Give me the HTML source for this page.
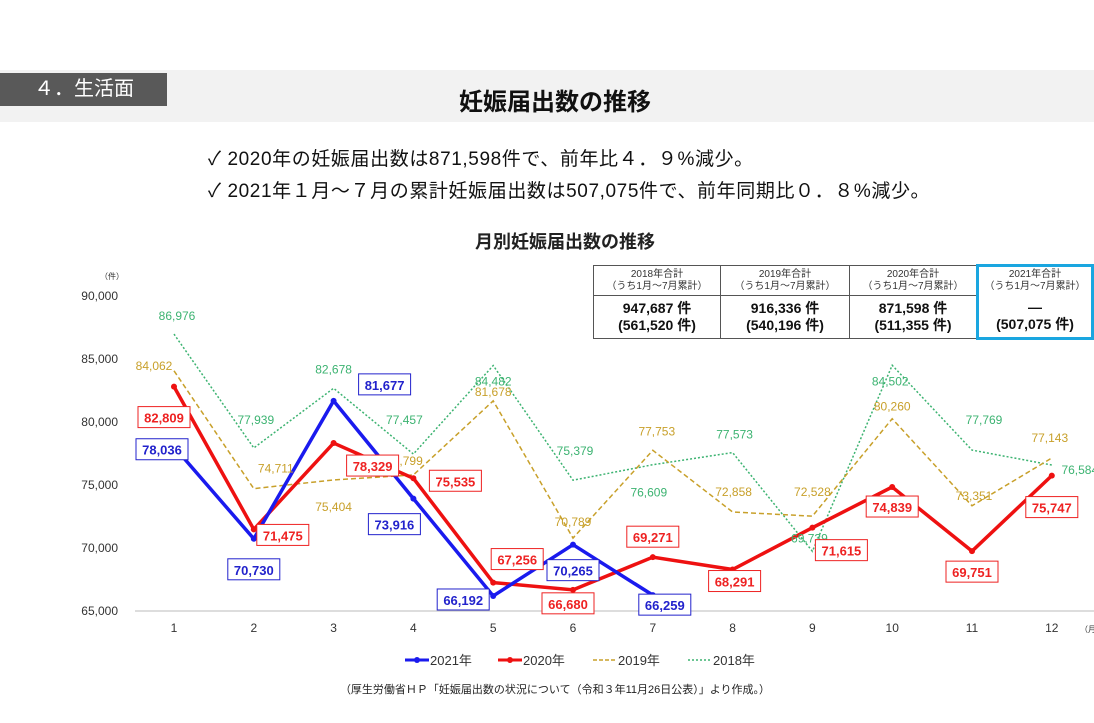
<!DOCTYPE html>
<html><head><meta charset="utf-8"><style>
body{margin:0;width:1094px;height:723px;overflow:hidden;background:#fff;font-family:"Liberation Sans","Noto Sans CJK JP",sans-serif;position:relative}
.abs{position:absolute}
table{border-collapse:collapse}
td{border:1px solid #555;text-align:center;padding:0;font-size:10px;color:#333;line-height:12px}
td.v{font-size:14px;font-weight:bold;color:#111;line-height:17px}
</style></head><body>
<div class="abs" style="left:0;top:70px;width:1094px;height:52px;background:#f2f2f2"></div>
<div class="abs" style="left:0;top:73px;width:167px;height:33px;background:#595959;color:#fff;font-size:20px;line-height:33px;text-indent:34px">４．生活面</div>
<div class="abs" style="left:0;top:82px;width:1110px;text-align:center;font-size:24px;font-weight:bold;color:#111">妊娠届出数の推移</div>
<div class="abs" style="left:208px;top:144px;font-size:19px;letter-spacing:0.6px;color:#111">✓ 2020年の妊娠届出数は871,598件で、前年比４．９%減少。</div>
<div class="abs" style="left:208px;top:176px;font-size:19px;letter-spacing:0.6px;color:#111">✓ 2021年１月～７月の累計妊娠届出数は507,075件で、前年同期比０．８%減少。</div>
<div class="abs" style="left:0;top:228px;width:1130px;text-align:center;font-size:18px;font-weight:bold;color:#222">月別妊娠届出数の推移</div>
<table class="abs" style="left:593px;top:264px;width:501px;height:76px">
<tr style="height:30px"><td style="width:126px">2018年合計<br>（うち1月～7月累計）</td><td style="width:128px">2019年合計<br>（うち1月～7月累計）</td><td style="width:126px">2020年合計<br>（うち1月～7月累計）</td><td style="border:3px solid #1aa6e0;border-bottom:none">2021年合計<br>（うち1月～7月累計）</td></tr>
<tr><td class="v">947,687 件<br>(561,520 件)</td><td class="v">916,336 件<br>(540,196 件)</td><td class="v">871,598 件<br>(511,355 件)</td><td class="v" style="border:3px solid #1aa6e0;border-top:none">―<br>(507,075 件)</td></tr>
</table>
<svg class="abs" style="left:0;top:0" width="1094" height="723" id="chart"></svg>
<div class="abs" style="left:0;top:681px;width:1110px;text-align:center;font-size:11px;color:#222">（厚生労働省ＨＰ「妊娠届出数の状況について（令和３年11月26日公表）」より作成。）</div>
<script>
const months=[1,2,3,4,5,6,7,8,9,10,11,12];
const yTicks=[65000,70000,75000,80000,85000,90000];
const s2021=[78036,70730,81677,73916,66192,70265,66259];
const s2020=[82809,71475,78329,75535,67256,66680,69271,68291,71615,74839,69751,75747];
const s2019=[84062,74711,75404,75799,81678,70789,77753,72858,72528,80260,73351,77143];
const s2018=[86976,77939,82678,77457,84482,75379,76609,77573,69739,84502,77769,76584];
const seriesNames=['2021年','2020年','2019年','2018年'];
const off2021=[[-12,3],[0,31],[51,-16],[-19,26],[-30,4],[0,26],[12,10]];
const off2020=[[-10,31],[29,6],[39,23],[42,3],[24,-23],[-5,14],[0,-20],[2,12],[29,23],[0,20],[0,21],[0,32]];
const off2019=[[-20,-6],[22,-21],[0,26],[-9,-15],[0,-10],[0,-17],[4,-20],[1,-21],[0,-25],[0,-13],[2,-11],[-2,-21]];
const off2018=[[3,-19],[2,-29],[0,-20],[-9,-35],[0,15],[2,-30],[-4,27],[2,-19],[-3,-14],[-2,15],[12,-31],[28,4]];
const svg=document.getElementById('chart');const NS='http://www.w3.org/2000/svg';
const x=m=>174+(m-1)*79.8;const y=v=>611-(v-65000)*0.0126;
function el(t,a,p){const e=document.createElementNS(NS,t);for(const k in a)e.setAttribute(k,a[k]);(p||svg).appendChild(e);return e;}
const fmt=v=>v.toLocaleString('en-US');
let ax=el('line',{x1:135,x2:1094,y1:611,y2:611,stroke:'#bbb'});


yTicks.forEach(t=>{const e=el('text',{x:118,y:y(t)+4,'text-anchor':'end','font-size':12,fill:'#333'});e.textContent=fmt(t);

});
let u=el('text',{x:112,y:279,'text-anchor':'middle','font-size':8,fill:'#333'});u.textContent='（件）';


months.forEach(m=>{const e=el('text',{x:x(m),y:632,'text-anchor':'middle','font-size':12,fill:'#333'});e.textContent=m;

});
let mu=el('text',{x:1080,y:632,'font-size':8,fill:'#333'});mu.textContent='（月）';


function line(data,color,w,dash,name){const p=el('polyline',{points:data.map((v,i)=>x(i+1)+','+y(v)).join(' '),fill:'none',stroke:color,'stroke-width':w,'stroke-dasharray':dash||'none'});

}
function dots(data,color,name){data.forEach((v,i)=>{const c=el('circle',{cx:x(i+1),cy:y(v),r:3,fill:color});

});}
function labels(data,off,color,boxed,name){data.forEach((v,i)=>{const cx=x(i+1)+off[i][0],cy=y(v)+off[i][1];
if(boxed){const r=el('rect',{x:cx-26,y:cy-11,width:52,height:21,fill:'#fff',stroke:color,'stroke-width':1});

}
const t=el('text',{x:cx,y:cy+5,'text-anchor':'middle','font-size':boxed?13:12,'font-weight':boxed?'bold':'normal',fill:color});t.textContent=fmt(v);

});}
line(s2018,'#3cb371',1.5,'2,2','line-2018');
line(s2019,'#c8a02a',1.5,'5,3','line-2019');
line(s2020,'#ee1111',3.5,null,'line-2020');dots(s2020,'#ee1111','point-2020');
line(s2021,'#1a1aee',3.5,null,'line-2021');dots(s2021,'#1a1aee','point-2021');
labels(s2018,off2018,'#3cb371',false,'label-2018');
labels(s2019,off2019,'#c8a02a',false,'label-2019');
labels(s2020,off2020,'#ee2222',true,'label-2020');
labels(s2021,off2021,'#2222cc',true,'label-2021');
const lg=[[405,'#1a1aee',3,null,true],[498,'#ee1111',3,null,true],[593,'#c8a02a',1.5,'4,2',false],[688,'#3cb371',1.5,'2,2',false]];
lg.forEach((l,i)=>{const g=el('g',{});


el('line',{x1:l[0],x2:l[0]+24,y1:660,y2:660,stroke:l[1],'stroke-width':l[2],'stroke-dasharray':l[3]||'none'},g);
if(l[4])el('circle',{cx:l[0]+12,cy:660,r:3,fill:l[1]},g);
const t=el('text',{x:l[0]+25,y:665,'font-size':13,fill:'#333'},g);t.textContent=seriesNames[i];});
</script>
</body></html>
